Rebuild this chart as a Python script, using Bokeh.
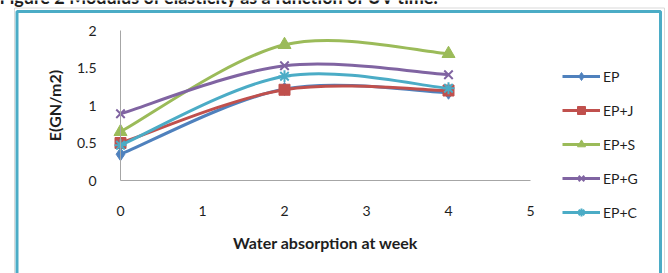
from bokeh.plotting import figure
from bokeh.models import Legend, LegendItem, BoxAnnotation
from bokeh.core.properties import value
from bokeh.embed import file_html
from bokeh.resources import INLINE

weeks = [0, 2, 4]
series_names = ["EP", "EP+J", "EP+S", "EP+G", "EP+C"]
ep = [0.35, 1.22, 1.17]
ep_j = [0.50, 1.21, 1.20]
ep_s = [0.65, 1.81, 1.69]
ep_g = [0.89, 1.53, 1.41]
ep_c = [0.47, 1.39, 1.23]
x_ticks = [0, 1, 2, 3, 4, 5]
y_ticks = [0, 0.5, 1, 1.5, 2]
y_tick_labels = ["0", "0.5", "1", "1.5", "2"]
caption = "Figure 2 Modulus of elasticity as a function of UV time."

colors = ["#4f81bd", "#c0504d", "#9bbb59", "#8064a2", "#4bacc6"]
markers = ["diamond", "square", "triangle", "x", "asterisk"]
msizes = [13, 11, 13, 12, 12]
FONT = "Lato"
TXT = "#1e1e1e"

W, H = 668, 273
# pixel layout of the plotting area (x: 0..5 -> 120..530 px, y: 0..2 -> 180..30 px)
PX0, PXU = 120.0, 82.0
PY0, PYU = 180.0, 75.0


def dx(px):
    return (px - PX0) / PXU


def dy(py):
    return (PY0 - py) / PYU


p = figure(width=W, height=H, x_range=(dx(0), dx(W)), y_range=(dy(H), dy(0)),
           output_backend="svg", toolbar_location=None,
           min_border=0, min_border_left=0, min_border_right=0,
           min_border_top=0, min_border_bottom=0)
p.outline_line_color = None
p.xgrid.visible = False
p.ygrid.visible = False
p.background_fill_color = "white"
p.border_fill_color = "white"

for ax in (p.xaxis[0], p.yaxis[0]):
    ax.axis_line_color = "#a6a6a6"
    ax.axis_line_width = 1
    ax.major_tick_line_color = None
    ax.minor_tick_line_color = None
    ax.major_label_text_font = FONT
    ax.major_label_text_font_size = "14px"
    ax.major_label_text_color = TXT
    ax.axis_label_text_font = FONT
    ax.axis_label_text_font_size = "16px"
    ax.axis_label_text_font_style = "bold"
    ax.axis_label_text_color = TXT

p.xaxis.fixed_location = 0
p.yaxis.fixed_location = 0
p.xaxis.bounds = (x_ticks[0], x_ticks[-1])
p.yaxis.bounds = (y_ticks[0], y_ticks[-1])
p.xaxis.ticker = x_ticks
p.yaxis.ticker = y_ticks
p.yaxis.major_label_overrides = {t: l for t, l in zip(y_ticks, y_tick_labels)}
p.xaxis.major_label_standoff = 19
p.yaxis.major_label_standoff = 18
p.xaxis.axis_label = "Water absorption at week"
p.yaxis.axis_label = "E(GN/m2)"
p.xaxis.axis_label_standoff = 14
p.yaxis.axis_label_standoff = 10


def smooth_controls(xs, ys):
    n = len(xs)
    out = {k: [] for k in ("x0", "y0", "x1", "y1", "cx0", "cy0", "cx1", "cy1")}
    for i in range(n - 1):
        xp, yp = (xs[i - 1], ys[i - 1]) if i > 0 else (xs[i], ys[i])
        xn, yn = (xs[i + 2], ys[i + 2]) if i + 2 < n else (xs[i + 1], ys[i + 1])
        out["x0"].append(xs[i]); out["y0"].append(ys[i])
        out["x1"].append(xs[i + 1]); out["y1"].append(ys[i + 1])
        out["cx0"].append(xs[i] + (xs[i + 1] - xp) / 6)
        out["cy0"].append(ys[i] + (ys[i + 1] - yp) / 6)
        out["cx1"].append(xs[i + 1] - (xn - xs[i]) / 6)
        out["cy1"].append(ys[i + 1] - (yn - ys[i]) / 6)
    return out


outer = BoxAnnotation(left=dx(14), right=dx(664), top=dy(7.5), bottom=dy(320),
                      fill_alpha=0, line_color="#d9d9d9", line_alpha=1, line_width=1)
box = BoxAnnotation(left=dx(16.5), right=dx(660), top=dy(11), bottom=dy(320),
                    fill_alpha=0, line_color="#4bacc6", line_alpha=1, line_width=3)
p.add_layout(outer)
p.add_layout(box)

items = []
for name, vals, c, m, s in zip(series_names, [ep, ep_j, ep_s, ep_g, ep_c], colors, markers, msizes):
    cp = smooth_controls(weeks, vals)
    rb = p.bezier(x0=cp["x0"], y0=cp["y0"], x1=cp["x1"], y1=cp["y1"],
                  cx0=cp["cx0"], cy0=cp["cy0"], cx1=cp["cx1"], cy1=cp["cy1"],
                  line_color=c, line_width=3)
    lw = 2 if m in ("x", "asterisk") else 1
    rs = p.scatter(weeks, vals, marker=m, size=s, fill_color=c, line_color=c, line_width=lw)
    items.append(LegendItem(label=name, renderers=[rb, rs]))

legend = Legend(items=items, location=(562, 51), orientation="vertical",
                glyph_width=38, glyph_height=20, label_height=20,
                spacing=14, padding=0, margin=0, label_standoff=3,
                border_line_color=None, background_fill_alpha=0,
                label_text_font=FONT, label_text_font_size="14px",
                label_text_color=TXT)
p.add_layout(legend, "center")

p.text(x=[dx(-1)], y=[dy(-4)], text=[caption], text_font=value(FONT),
       text_font_size="18px", text_font_style="bold", text_color=TXT,
       text_baseline="alphabetic", text_align="left")

open("out.html", "w").write(file_html(p, INLINE))
